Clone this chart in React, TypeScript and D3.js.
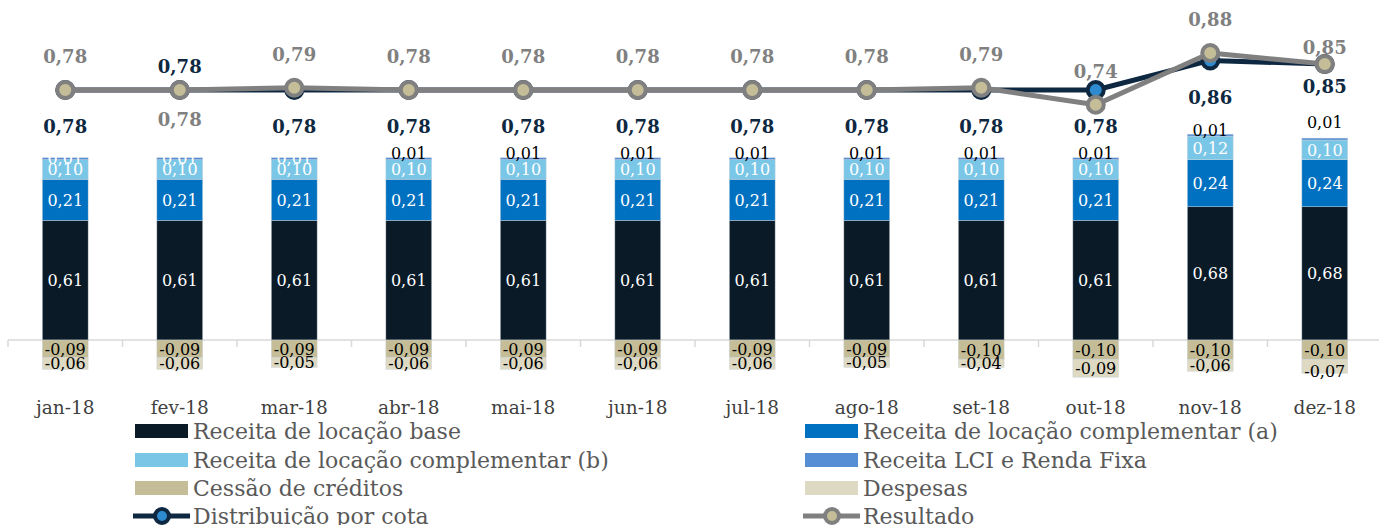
import React from "react";
import * as d3 from "d3";

const months = ["jan-18","fev-18","mar-18","abr-18","mai-18","jun-18","jul-18","ago-18","set-18","out-18","nov-18","dez-18"];
const receitaBase = [0.61,0.61,0.61,0.61,0.61,0.61,0.61,0.61,0.61,0.61,0.68,0.68];
const receitaCompA = [0.21,0.21,0.21,0.21,0.21,0.21,0.21,0.21,0.21,0.21,0.24,0.24];
const receitaCompB = [0.10,0.10,0.10,0.10,0.10,0.10,0.10,0.10,0.10,0.10,0.12,0.10];
const receitaLCI = [0.01,0.01,0.01,0.01,0.01,0.01,0.01,0.01,0.01,0.01,0.01,0.01];
const cessao = [-0.09,-0.09,-0.09,-0.09,-0.09,-0.09,-0.09,-0.09,-0.10,-0.10,-0.10,-0.10];
const despesas = [-0.06,-0.06,-0.05,-0.06,-0.06,-0.06,-0.06,-0.05,-0.04,-0.09,-0.06,-0.07];
const distribuicao = [0.78,0.78,0.78,0.78,0.78,0.78,0.78,0.78,0.78,0.78,0.86,0.85];
const resultado = [0.78,0.78,0.786,0.78,0.78,0.78,0.78,0.78,0.786,0.74,0.88,0.85];

// label placement (rendering config)
const distPlace = ["below","above","below","below","below","below","below","below","below","below","below","near"];
const resPlace = ["above","below","above","above","above","above","above","above","above","above","above","near"];
const lciPlace = ["inside","inside","inside","above","above","above","above","above","above","above","above","high"];

const FONT = "'DejaVu Serif', serif";
const C = {
  base: "#0A1A27",
  compA: "#0070C0",
  compB: "#7AC6E6",
  lci: "#558ED5",
  cessao: "#C4BD97",
  despesas: "#DDD9C3",
  dist: "#0E2841",
  distFill: "#2E8BD0",
  res: "#808080",
  resFill: "#C4BD97",
};

const series = [
  { key: "base", name: "Receita de locação base", values: receitaBase, color: C.base },
  { key: "compA", name: "Receita de locação complementar (a)", values: receitaCompA, color: C.compA },
  { key: "compB", name: "Receita de locação complementar (b)", values: receitaCompB, color: C.compB },
  { key: "lci", name: "Receita LCI e Renda Fixa", values: receitaLCI, color: C.lci },
  { key: "cessao", name: "Cessão de créditos", values: cessao, color: C.cessao },
  { key: "despesas", name: "Despesas", values: despesas, color: C.despesas },
];

const fmt = (v: number) => v.toFixed(2).replace(".", ",");

export default function App() {
  const W = 1379, H = 525;
  const x = d3.scaleBand<string>().domain(months).range([8, 1382]).paddingInner(0.6).paddingOuter(0.3);
  const yBar = d3.scaleLinear().domain([0, 1]).range([340, 144]);
  const yLine = d3.scaleLinear().domain([0, 1]).range([378.6, 8.6]);

  const table = months.map((m, i) => {
    const o: any = { month: m };
    series.forEach(s => (o[s.key] = s.values[i]));
    return o;
  });
  const stacked = d3.stack<any>().keys(series.map(s => s.key)).offset(d3.stackOffsetDiverging)(table);

  const cx = (m: string) => (x(m) as number) + x.bandwidth() / 2;
  const line = d3.line<number>().x((_, i) => cx(months[i])).y(d => yLine(d));

  const step = x.step();
  const ticks = d3.range(months.length + 1).map(i => 8 + i * step);

  const legendItems = [
    { s: series[0], col: 0, row: 0 },
    { s: series[1], col: 1, row: 0 },
    { s: series[2], col: 0, row: 1 },
    { s: series[3], col: 1, row: 1 },
    { s: series[4], col: 0, row: 2 },
    { s: series[5], col: 1, row: 2 },
  ];
  const legX = [135, 805];
  const legY = [431, 460, 488, 516];

  return (
    <svg width={W} height={H} style={{ position: "absolute", left: 0, top: 0, display: "block", background: "#fff" }} fontFamily={FONT}>
      {/* axis */}
      <line x1={8} x2={1379} y1={340} y2={340} stroke="#D9D9D9" strokeWidth={1.5} />
      {ticks.map((t, i) => (
        <line key={i} x1={t} x2={t} y1={340} y2={347} stroke="#D9D9D9" strokeWidth={1.5} />
      ))}
      {/* bars */}
      {stacked.map((layer, li) => (
        <g key={layer.key}>
          {layer.map((d, i) => (
            <rect key={i} x={x(months[i])} width={x.bandwidth()} y={yBar(Math.max(d[0], d[1]))}
              height={Math.abs(yBar(d[0]) - yBar(d[1]))} fill={series[li].color}
              stroke="#C9D3DC" strokeWidth={0.6} strokeOpacity={0.7} />
          ))}
        </g>
      ))}
      {/* bar labels */}
      {stacked.map((layer, li) => (
        <g key={"l" + layer.key} fontSize={16} textAnchor="middle">
          {layer.map((d, i) => {
            const s = series[li];
            const v = s.values[i];
            const top = yBar(Math.max(d[0], d[1]));
            const bot = yBar(Math.min(d[0], d[1]));
            let yc = (top + bot) / 2;
            let fill = s.key === "cessao" || s.key === "despesas" ? "#000" : "#fff";
            if (s.key === "lci") {
              const p = lciPlace[i];
              if (p === "above") { yc = top - 4; fill = "#000"; }
              else if (p === "high") { yc = top - 16; fill = "#000"; }
              else { yc = top + 1; }
            }
            if (s.key === "despesas" && i === 11) yc += 5;
            return (
              <text key={i} x={cx(months[i])} y={yc} dy="0.36em" fill={fill}>{fmt(v)}</text>
            );
          })}
        </g>
      ))}
      {/* x labels */}
      {months.map(m => (
        <text key={m} x={cx(m)} y={414} textAnchor="middle" fontSize={18.5} fill="#404040">{m}</text>
      ))}
      {/* distribution line */}
      <path d={line(distribuicao) || ""} fill="none" stroke={C.dist} strokeWidth={5} strokeLinejoin="round" />
      {distribuicao.map((v, i) => (
        <circle key={i} cx={cx(months[i])} cy={yLine(v)} r={8} fill={C.distFill} stroke={C.dist} strokeWidth={4} />
      ))}
      {/* resultado line */}
      <path d={line(resultado) || ""} fill="none" stroke={C.res} strokeWidth={5} strokeLinejoin="round" />
      {resultado.map((v, i) => (
        <circle key={i} cx={cx(months[i])} cy={yLine(v)} r={8} fill={C.resFill} stroke={C.res} strokeWidth={4} />
      ))}
      {/* line labels */}
      {distribuicao.map((v, i) => {
        const p = distPlace[i];
        const off = p === "below" ? 37 : p === "above" ? -23 : 22;
        return (
          <text key={"d" + i} x={cx(months[i])} y={yLine(v) + off} dy="0.36em" textAnchor="middle"
            fontSize={18} fontWeight="bold" fill={C.dist}>{fmt(v)}</text>
        );
      })}
      {resultado.map((v, i) => {
        const p = resPlace[i];
        const off = p === "above" ? -33 : p === "below" ? 30 : -17;
        return (
          <text key={"r" + i} x={cx(months[i])} y={yLine(v) + off} dy="0.36em" textAnchor="middle"
            fontSize={18} fontWeight="bold" fill={C.res}>{fmt(v)}</text>
        );
      })}
      {/* legend */}
      {legendItems.map(({ s, col, row }) => (
        <g key={s.key}>
          <rect x={legX[col]} y={legY[row] - 7} width={53} height={14} fill={s.color} />
          <text x={legX[col] + 58} y={legY[row]} dy="0.36em" fontSize={22} fill="#595959">{s.name}</text>
        </g>
      ))}
      <g>
        <line x1={legX[0] - 2} x2={legX[0] + 55} y1={legY[3]} y2={legY[3]} stroke={C.dist} strokeWidth={5} />
        <circle cx={legX[0] + 27} cy={legY[3]} r={7} fill={C.distFill} stroke={C.dist} strokeWidth={4} />
        <text x={legX[0] + 58} y={legY[3]} dy="0.36em" fontSize={22} fill="#595959">Distribuição por cota</text>
      </g>
      <g>
        <line x1={legX[1] - 2} x2={legX[1] + 55} y1={legY[3]} y2={legY[3]} stroke={C.res} strokeWidth={5} />
        <circle cx={legX[1] + 27} cy={legY[3]} r={7} fill={C.resFill} stroke={C.res} strokeWidth={4} />
        <text x={legX[1] + 58} y={legY[3]} dy="0.36em" fontSize={22} fill="#595959">Resultado</text>
      </g>
    </svg>
  );
}
